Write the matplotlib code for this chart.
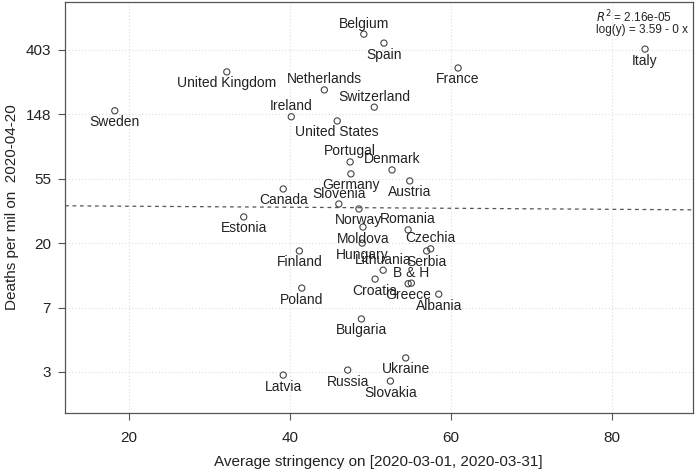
import numpy as np
import matplotlib
matplotlib.use("Agg")
import matplotlib.pyplot as plt

countries = ["Belgium", "Spain", "Italy", "France", "United Kingdom", "Netherlands",
             "Switzerland", "Sweden", "Ireland", "United States", "Portugal", "Denmark",
             "Germany", "Austria", "Canada", "Slovenia", "Norway", "Estonia", "Moldova",
             "Romania", "Hungary", "Czechia", "Serbia", "Finland", "Lithuania", "Croatia",
             "B & H", "Greece", "Albania", "Poland", "Bulgaria", "Ukraine", "Russia",
             "Latvia", "Slovakia"]
stringency = [49.2, 51.7, 84.1, 60.9, 32.2, 44.3,
              50.5, 18.3, 40.2, 45.9, 47.5, 52.7,
              47.6, 54.9, 39.2, 46.1, 48.6, 34.3, 49.1,
              54.7, 49.0, 57.5, 57.0, 41.2, 51.6, 50.6,
              55.1, 54.7, 58.5, 41.5, 48.9, 54.4, 47.2,
              39.2, 52.5]
deaths = [516, 449, 409, 305, 287, 217,
          166, 157, 143, 134, 70.9, 62.6,
          58.9, 52.8, 46.6, 36.9, 34.2, 30.2, 25.8,
          24.7, 20.1, 18.4, 17.8, 17.8, 13.2, 11.5,
          10.8, 10.7, 9.1, 10.0, 6.19, 3.38, 2.80,
          2.59, 2.36]
# label placement: +1 above, -1 below
label_side = {"Belgium": 1, "Netherlands": 1, "Switzerland": 1, "Ireland": 1,
              "Portugal": 1, "Denmark": 1, "Slovenia": 1, "Romania": 1,
              "Czechia": 1, "Lithuania": 1, "B & H": 1}

fit_intercept = 3.59
fit_slope = -0.0008
r2_text = "2.16e-05"

x_ticks = [20, 40, 60, 80]
y_tick_exp = [1, 2, 3, 4, 5, 6]
y_tick_labels = ["3", "7", "20", "55", "148", "403"]

plt.rcParams['font.family'] = ['Liberation Sans', 'DejaVu Sans']

fig = plt.figure(figsize=(6.97, 4.71), dpi=100)
ax = fig.add_axes([65/697, 1-413/471, (693-65)/697, (413-2)/471])
ax.set_yscale('log')
ax.set_xlim(12.12, 90.05)
ax.set_ylim(np.exp(0.363), np.exp(6.745))

yt = [np.exp(e) for e in y_tick_exp]
ax.set_xticks(x_ticks)
ax.set_xticklabels([str(t) for t in x_ticks])
ax.set_yticks(yt)
ax.set_yticklabels(y_tick_labels)
ax.yaxis.set_minor_locator(matplotlib.ticker.NullLocator())

for t in x_ticks:
    ax.axvline(t, color='#dcdcdc', lw=0.8, ls=(0, (1, 2)), zorder=0)
for t in yt:
    ax.axhline(t, color='#dcdcdc', lw=0.8, ls=(0, (1, 2)), zorder=0)

xs = np.array([12.12, 90.05])
ax.plot(xs, np.exp(fit_intercept + fit_slope * xs), color='#555555', lw=0.9,
        ls=(0, (3, 3)), zorder=1)

ax.scatter(stringency, deaths, s=20, facecolors='none', edgecolors='#444444',
           linewidths=0.8, zorder=3)

for c, x, y in zip(countries, stringency, deaths):
    side = label_side.get(c, -1)
    off = 10.5 if side > 0 else -11.5
    ax.annotate(c, (x, y), xytext=(0, off), textcoords='offset pixels',
                ha='center', va='center', fontsize=10, color='#222222', zorder=4)

fig.text(596/697, 1-17/471, r"$R^2$ = " + r2_text, ha='left', va='center',
         fontsize=8.5, color='#222222')
fig.text(596/697, 1-30/471, "log(y) = %.2f - 0 x" % fit_intercept, ha='left', va='center',
         fontsize=8.5, color='#222222')

for sp in ax.spines.values():
    sp.set_color('#555555')
    sp.set_linewidth(0.9)
ax.tick_params(axis='both', direction='out', length=5, width=0.8, color='#555555',
               labelsize=11, labelcolor='#222222')
ax.tick_params(axis='x', pad=8)
ax.tick_params(axis='y', pad=5)
fig.text(378/697, 1-462/471, "Average stringency on [2020-03-01, 2020-03-31]", fontsize=11,
         color='#222222', ha='center', va='center')
fig.text(12/697, 1-207/471, "Deaths per mil on  2020-04-20", fontsize=11, color='#222222',
         ha='center', va='center', rotation=90)

fig.savefig("out.png", dpi=100)
